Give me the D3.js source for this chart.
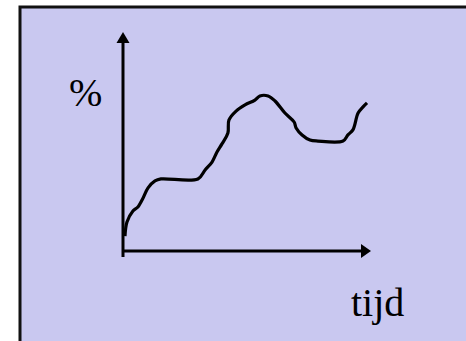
<!DOCTYPE html>
<html>
<head>
<meta charset="utf-8">
<script src="https://cdn.jsdelivr.net/npm/d3@7"></script>
<style>
  body { margin: 0; background: #fff; }
  svg { display: block; }
  .lbl { font-family: "Liberation Serif", "Times New Roman", serif; font-size: 40px; fill: #000; }
</style>
</head>
<body>
<div id="chart"></div>
<script>
var w = 466;
var h = 341;

// time (0-100) and percentage (0-100)
var tijd = [0.8, 1.6, 4.0, 6.0, 8.1, 10.1, 12.9, 15.3, 30.2, 33.1, 35.9, 37.9, 39.9, 42.3, 42.7,
            45.6, 49.2, 53.2, 55.2, 58.5, 61.3, 65.3, 69.0, 69.8, 72.2, 75.4, 78.6, 88.7, 90.7,
            92.7, 94.8, 96.8, 98.4];
var procent = [6.8, 13.2, 18.3, 20.1, 24.2, 28.8, 32.0, 32.9, 32.9, 37.0, 40.6, 45.2, 48.9, 53.9, 59.8,
               63.9, 66.7, 68.9, 70.8, 70.8, 68.5, 63.0, 58.9, 56.2, 53.0, 50.7, 50.2, 50.2, 53.0,
               55.3, 63.0, 65.8, 67.6];
var yLabel = "%";
var xLabel = "tijd";

var dataset = tijd.map(function(t, i) { return {t: t, p: procent[i]}; });

var xScale = d3.scaleLinear().domain([0, 100]).range([123, 371]);
var yScale = d3.scaleLinear().domain([0, 100]).range([251, 32]);

var svg = d3.select("#chart")
            .append("svg")
            .attr("width", w)
            .attr("height", h);

// lavender panel
svg.append("rect")
    .attr("x", 20)
    .attr("y", 7)
    .attr("width", 470)
    .attr("height", 360)
    .attr("fill", "#c9c8f0")
    .attr("stroke", "#111")
    .attr("stroke-width", 3);

// y axis line + arrow
svg.append("line")
    .attr("x1", xScale(0)).attr("y1", yScale(0) + 6)
    .attr("x2", xScale(0)).attr("y2", yScale(100) + 8)
    .attr("stroke", "#000").attr("stroke-width", 3);
svg.append("path")
    .attr("d", "M" + xScale(0) + "," + yScale(100) +
               "L" + (xScale(0) - 6.5) + "," + (yScale(100) + 11) +
               "L" + (xScale(0) + 6.5) + "," + (yScale(100) + 11) + "Z")
    .attr("fill", "#000");

// x axis line + arrow
svg.append("line")
    .attr("x1", xScale(0)).attr("y1", yScale(0))
    .attr("x2", xScale(100) - 8).attr("y2", yScale(0))
    .attr("stroke", "#000").attr("stroke-width", 3);
svg.append("path")
    .attr("d", "M" + xScale(100) + "," + yScale(0) +
               "L" + (xScale(100) - 10) + "," + (yScale(0) - 7) +
               "L" + (xScale(100) - 10) + "," + (yScale(0) + 7) + "Z")
    .attr("fill", "#000");

var line = d3.line()
            .x(function(d) { return xScale(d.t); })
            .y(function(d) { return yScale(d.p); })
            .curve(d3.curveCatmullRom.alpha(0.5));

svg.append("path")
    .datum(dataset)
    .attr("d", line)
    .attr("fill", "none")
    .attr("stroke", "#000")
    .attr("stroke-width", 3.2)
    .attr("stroke-linejoin", "round")
    .attr("stroke-linecap", "butt");

svg.append("text")
    .attr("class", "lbl")
    .attr("x", 69)
    .attr("y", 106)
    .text(yLabel);

svg.append("text")
    .attr("class", "lbl")
    .attr("x", 351)
    .attr("y", 316)
    .text(xLabel);
</script>
</body>
</html>
